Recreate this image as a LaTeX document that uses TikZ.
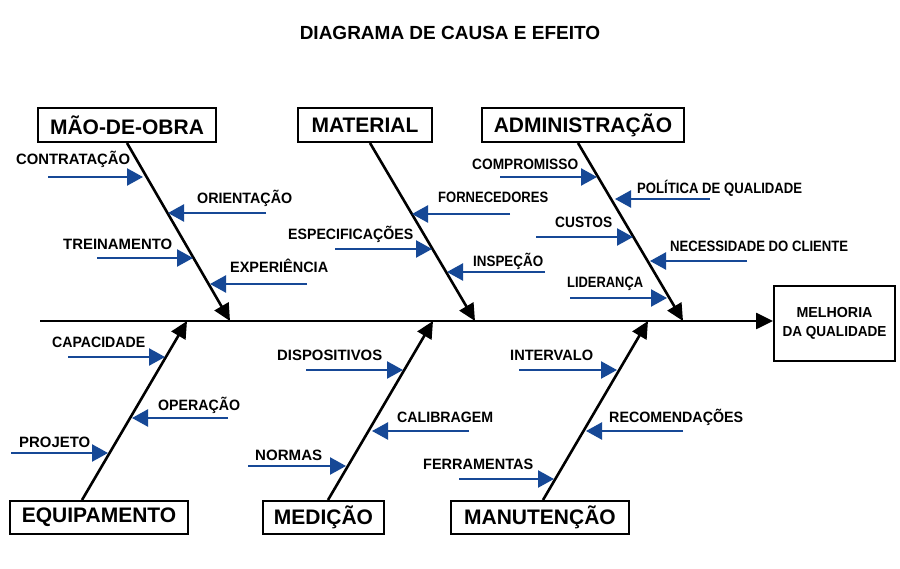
\documentclass[tikz,border=0pt]{standalone}
\usepackage{fontspec}
\usepackage{graphicx}
\setmainfont{Liberation Sans}
\usetikzlibrary{arrows.meta,calc}
\definecolor{fbblue}{RGB}{22,72,150}
\begin{document}
\begin{tikzpicture}[x=1pt,y=-1pt,
  box/.style={draw,line width=2pt,minimum height=34pt,inner sep=0pt,font=\bfseries\fontsize{21}{21}\selectfont},
  bone/.style={line width=2.6pt,-{Triangle[length=17pt,width=16pt]}},
  cause/.style={draw=fbblue,line width=2.4pt,-{Triangle[length=16pt,width=17pt]}},
  lbl/.style={anchor=base west,inner sep=0pt,font=\bfseries\fontsize{15}{15}\selectfont},
]
\useasboundingbox[fill=white] (0,0) rectangle (900,569);

% title
\node[font=\bfseries\fontsize{19}{19}\selectfont] (title) at (450,33) {DIAGRAMA DE CAUSA E EFEITO};

% effect
\node[draw,line width=2pt,minimum width=121pt,minimum height=75pt,align=center,inner sep=0pt,
  font=\bfseries\fontsize{14.5}{19}\selectfont] (efeito) at (834.5,323.5)
  {\resizebox{76pt}{\height}{MELHORIA}\\\resizebox{104pt}{\height}{DA QUALIDADE}};

% category boxes
\node[box,minimum width=178pt] (mao) at (127,125) {MÃO-DE-OBRA};
\node[box,minimum width=134pt] (mat) at (365,125) {MATERIAL};
\node[box,minimum width=202pt] (adm) at (583,125) {ADMINISTRAÇÃO};
\node[box,minimum width=178pt,minimum height=33pt] (equ) at (99,517.5) {EQUIPAMENTO};
\node[box,minimum width=121pt,minimum height=33pt] (med) at (323.5,517.5) {MEDIÇÃO};
\node[box,minimum width=178pt,minimum height=33pt] (man) at (540,517.5) {MANUTENÇÃO};

% spine
\coordinate (sl) at (40,321);
\draw[line width=2.6pt,-{Triangle[length=17pt,width=16pt]}] (sl) -- (efeito.west |- sl);

% bones
\coordinate (t1) at (230,321);
\coordinate (t2) at (475,321);
\coordinate (t3) at (683,321);
\coordinate (b1) at (187,321);
\coordinate (b2) at (433,321);
\coordinate (b3) at (648,321);
\draw[bone] (mao.south) -- (t1);
\draw[bone] ([xshift=5pt]mat.south) -- (t2);
\draw[bone] ([xshift=-5pt]adm.south) -- (t3);
\draw[bone] ([xshift=-17pt]equ.north) -- (b1);
\draw[bone] ([xshift=4.5pt]med.north) -- (b2);
\draw[bone] ([xshift=3pt]man.north) -- (b3);

% causes: id, label position, text, arrow start, arrow end, text width
\newcommand{\cause}[6]{%
  \node[lbl] (l#1) at (#2) {\resizebox{#6pt}{\height}{#3}};
  \coordinate (s#1) at (#4);
  \coordinate (e#1) at (#5);
  \draw[cause] (s#1) -- (e#1);
}
% MAO-DE-OBRA
\cause{1}{16,165}{CONTRATAÇÃO}{48,177}{143,177}{114}
\cause{2}{197,204}{ORIENTAÇÃO}{266,213}{168,213}{95}
\cause{3}{63,250}{TREINAMENTO}{97,258}{193,258}{109}
\cause{4}{230,273}{EXPERIÊNCIA}{307,284}{210,284}{98}
% MATERIAL
\cause{5}{438,203}{FORNECEDORES}{510,214}{412,214}{110}
\cause{6}{288,240}{ESPECIFICAÇÕES}{335,249}{432,249}{125}
\cause{7}{473,267}{INSPEÇÃO}{545,272}{447,272}{70}
% ADMINISTRACAO
\cause{8}{472,170}{COMPROMISSO}{500,177}{597,177}{106}
\cause{9}{637,194}{POLÍTICA DE QUALIDADE}{710,199}{615,199}{165}
\cause{10}{555,228}{CUSTOS}{536,237}{633,237}{57}
\cause{11}{670,252}{NECESSIDADE DO CLIENTE}{747,261}{650,261}{178}
\cause{12}{567,288}{LIDERANÇA}{570,298}{667,298}{76}
% EQUIPAMENTO
\cause{13}{52,348}{CAPACIDADE}{68,357}{165,357}{93}
\cause{14}{158,410}{OPERAÇÃO}{228,418}{132,418}{82}
\cause{15}{19,447}{PROJETO}{11,453}{108,453}{71}
% MEDICAO
\cause{16}{277,360}{DISPOSITIVOS}{306,370}{403,370}{105}
\cause{17}{397,422}{CALIBRAGEM}{469,431}{372,431}{96}
\cause{18}{255,460}{NORMAS}{248,466}{346,466}{67}
% MANUTENCAO
\cause{19}{510,360}{INTERVALO}{519,370}{617,370}{83}
\cause{20}{609,422}{RECOMENDAÇÕES}{683,431}{586,431}{134}
\cause{21}{423,469}{FERRAMENTAS}{459,479}{554,479}{110}
\end{tikzpicture}
\end{document}
